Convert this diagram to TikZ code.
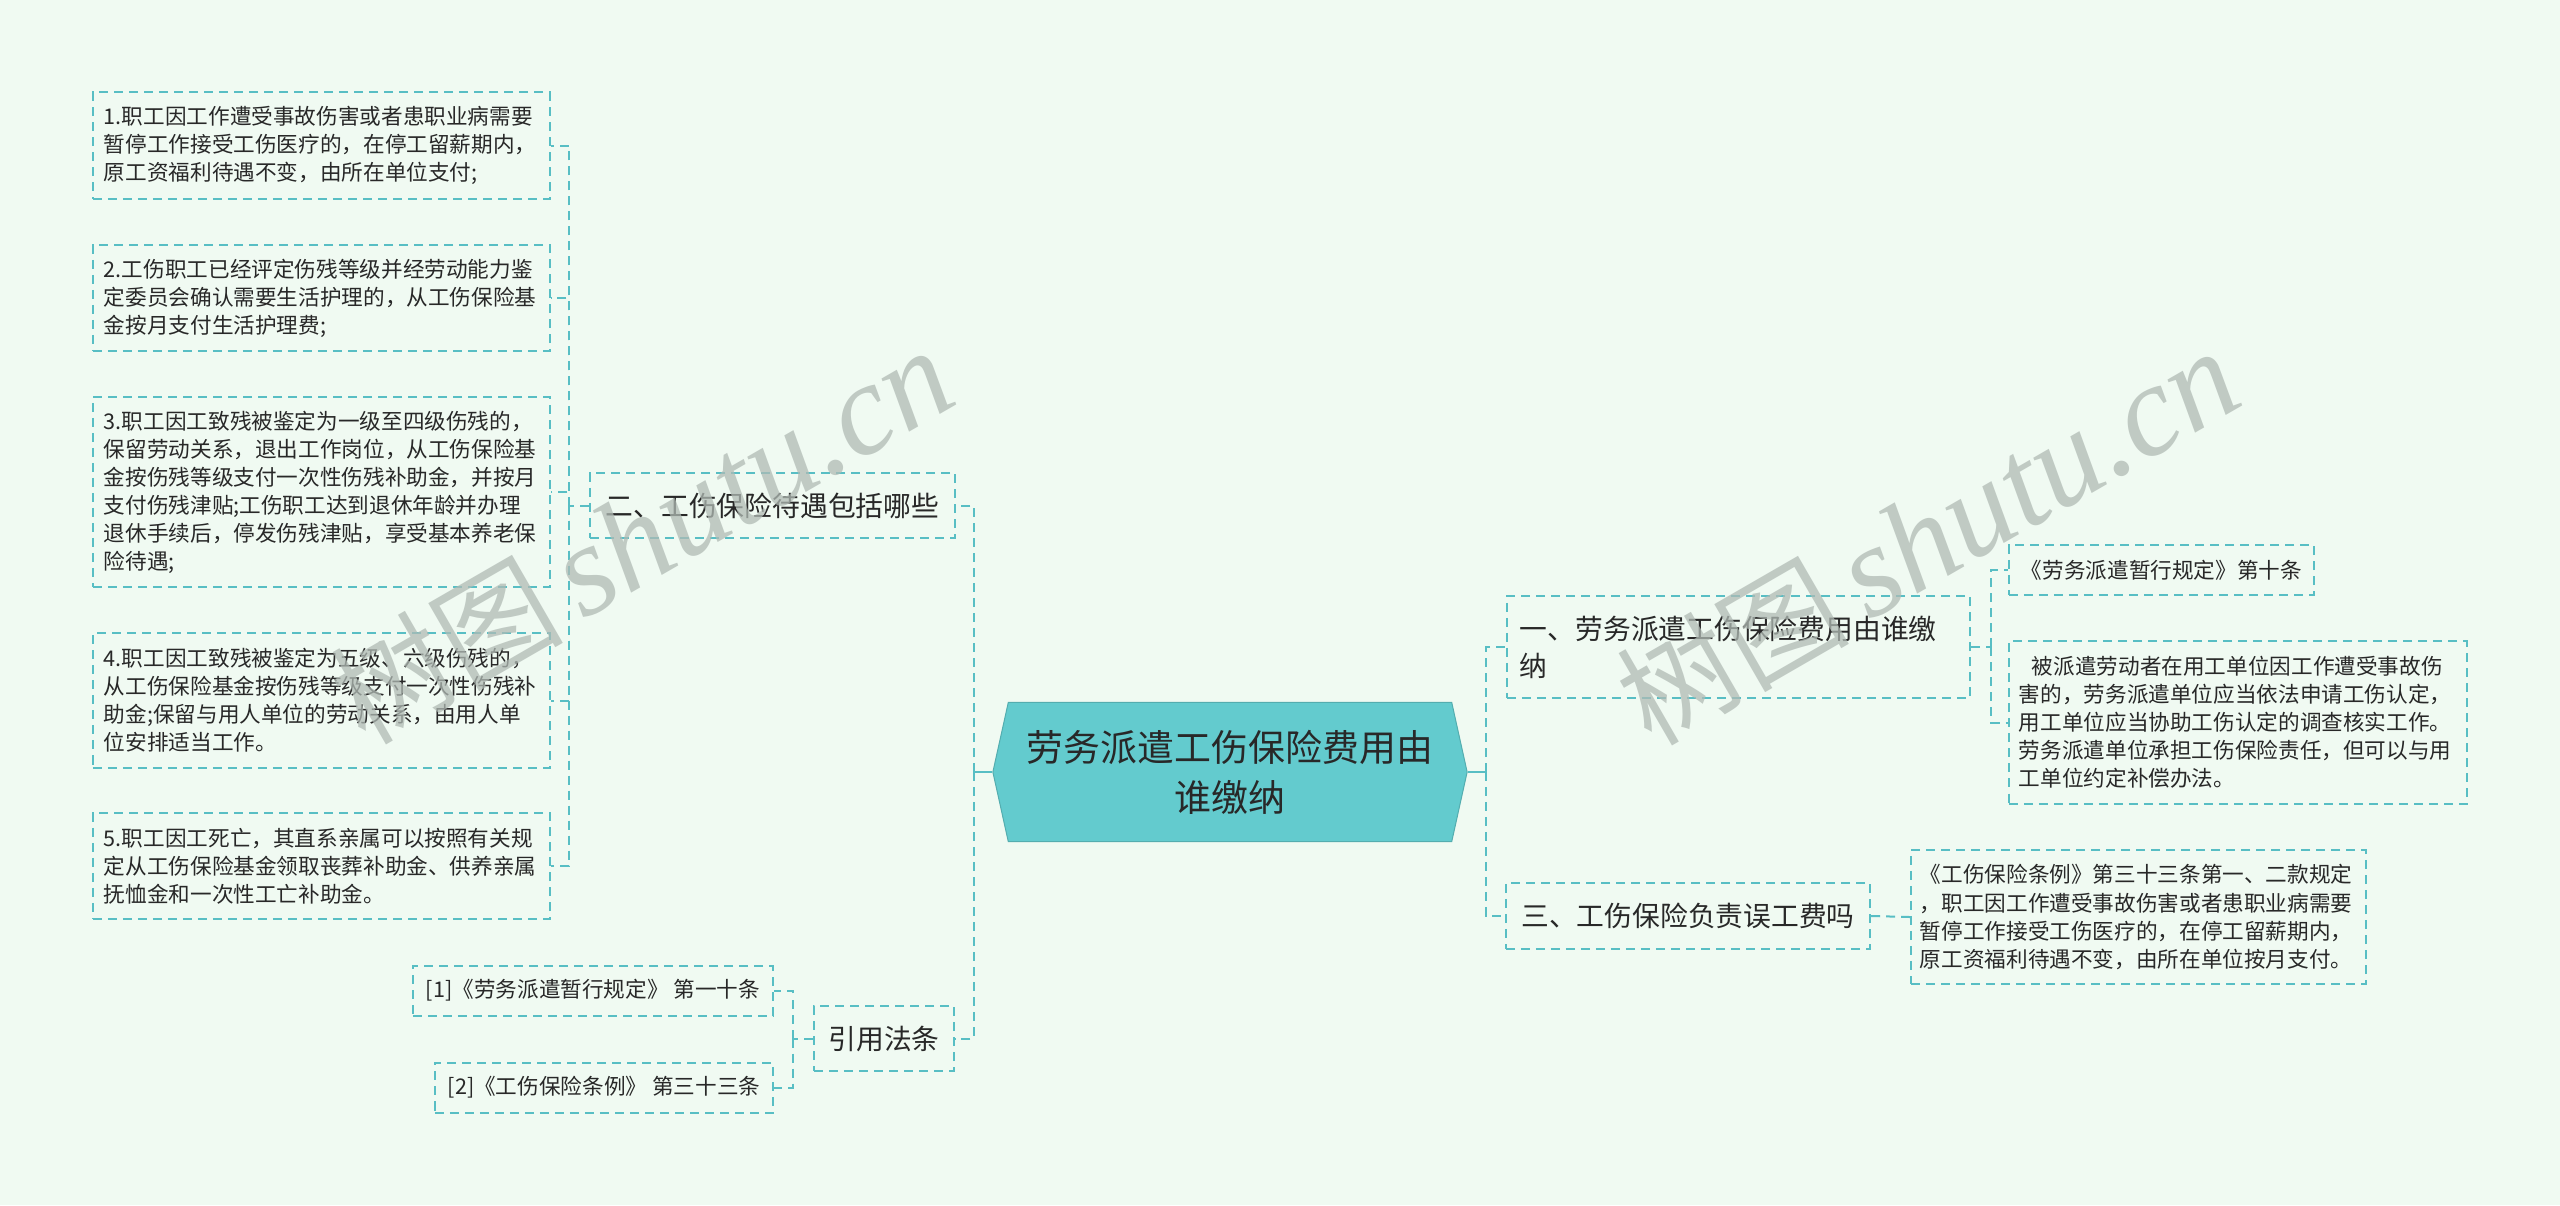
\documentclass[tikz,border=0pt]{standalone}
\usepackage{fontspec}
\setmainfont{Noto Sans CJK SC}
\newfontfamily\wmfont{Liberation Serif}
\usepackage{tikz}
\usetikzlibrary{positioning}
\usetikzlibrary{shapes.symbols}
\definecolor{bgcol}{RGB}{240,250,242}
\definecolor{linecol}{RGB}{88,190,196}
\definecolor{rootcol}{RGB}{99,203,206}
\definecolor{txtcol}{RGB}{40,40,40}
\definecolor{wmcol}{RGB}{176,186,180}
\tikzset{root node/.style={signal,signal to=west and east,signal pointer angle=155,fill=rootcol,draw=rootcol!85!black,line width=0.01cm,minimum width=4.74cm,minimum height=1.39cm,inner sep=0pt,align=center,text=txtcol,font=\fontsize{10.5pt}{14.2pt}\selectfont},
  branch node/.style={draw=linecol,dash pattern=on 0.09cm off 0.06cm,line width=0.02cm,inner xsep=0.13cm,inner ysep=0pt,align=left,text=txtcol,font=\fontsize{7.9pt}{10.5pt}\selectfont},
  leaf node/.style={draw=linecol,dash pattern=on 0.09cm off 0.06cm,line width=0.02cm,inner xsep=0.11cm,inner ysep=0pt,align=left,text=txtcol,font=\fontsize{6.15pt}{7.97pt}\selectfont},
  nlines/.style={minimum height=#1*0.28cm+0.22cm},
  link/.style={draw=linecol,dash pattern=on 0.09cm off 0.06cm,line width=0.02cm},
  elbow/.style={to path={|- (\tikztotarget)}},
  watermark/.style={text=wmcol,rotate=30,opacity=0.75},}

\begin{document}
\begin{tikzpicture}[x=0.01cm,y=-0.01cm]
    \fill[bgcol] (0,0) rectangle (2560,1205);
    \useasboundingbox (0,0) rectangle (2560,1205);

    \node[root node] (root) at (1230,772) {劳务派遣工伤保险费用由\\谁缴纳};

    % left half
    \node[branch node,minimum width=3.65cm,minimum height=0.65cm,align=center] (b2) at (772.5,505.5) {二、工伤保险待遇包括哪些};
    \node[branch node,minimum width=1.40cm,minimum height=0.65cm,align=center] (b4) at (884,1038.5) {引用法条};

    \node[leaf node,text width=4.35cm,nlines=3] (l1) at (321.5,145.5) {1.职工因工作遭受事故伤害或者患职业病需要\\暂停工作接受工伤医疗的，在停工留薪期内，\\原工资福利待遇不变，由所在单位支付;};
    \node[leaf node,text width=4.35cm,nlines=3] (l2) at (321.5,298) {2.工伤职工已经评定伤残等级并经劳动能力鉴\\定委员会确认需要生活护理的，从工伤保险基\\金按月支付生活护理费;};
    \node[leaf node,text width=4.35cm,nlines=6] (l3) at (321.5,492) {3.职工因工致残被鉴定为一级至四级伤残的，\\保留劳动关系，退出工作岗位，从工伤保险基\\金按伤残等级支付一次性伤残补助金，并按月\\支付伤残津贴;工伤职工达到退休年龄并办理\\退休手续后，停发伤残津贴，享受基本养老保\\险待遇;};
    \node[leaf node,text width=4.35cm,nlines=4] (l4) at (321.5,700.5) {4.职工因工致残被鉴定为五级、六级伤残的，\\从工伤保险基金按伤残等级支付一次性伤残补\\助金;保留与用人单位的劳动关系，由用人单\\位安排适当工作。};
    \node[leaf node,text width=4.35cm,nlines=3] (l5) at (321.5,866) {5.职工因工死亡，其直系亲属可以按照有关规\\定从工伤保险基金领取丧葬补助金、供养亲属\\抚恤金和一次性工亡补助金。};

    \node[leaf node,minimum width=3.60cm,nlines=1,align=center] (r1) at (593,990.5) {[1]《劳务派遣暂行规定》 第一十条};
    \node[leaf node,minimum width=3.38cm,nlines=1,align=center] (r2) at (604,1087.5) {[2]《工伤保险条例》 第三十三条};

    % right half
    \node[branch node,text width=4.37cm,minimum height=1.02cm] (b1) at (1738.5,647) {一、劳务派遣工伤保险费用由谁缴\\纳};
    \node[branch node,minimum width=3.64cm,minimum height=0.66cm,align=center] (b3) at (1688,916) {三、工伤保险负责误工费吗};

    \node[leaf node,minimum width=3.05cm,nlines=1,align=center] (k1) at (2161.5,570) {《劳务派遣暂行规定》第十条};
    \node[leaf node,text width=4.38cm,inner xsep=0.10cm,nlines=5] (k2) at (2238,722.5) {\hspace{0.13cm}被派遣劳动者在用工单位因工作遭受事故伤\\害的，劳务派遣单位应当依法申请工伤认定，\\用工单位应当协助工伤认定的调查核实工作。\\劳务派遣单位承担工伤保险责任，但可以与用\\工单位约定补偿办法。};
    \node[leaf node,text width=4.37cm,inner xsep=0.09cm,nlines=4] (k3) at (2138.5,917) {《工伤保险条例》第三十三条第一、二款规定\\，职工因工作遭受事故伤害或者患职业病需要\\暂停工作接受工伤医疗的，在停工留薪期内，\\原工资福利待遇不变，由所在单位按月支付。};

    \coordinate (lbus) at (974,772);
    \coordinate (rbus) at (1486,772);
    \draw[linecol,line width=0.02cm] (root.west) -- (lbus) (root.east) -- (rbus);

    \path[link] (b2.west) -- ++(-20,0) coordinate (lb2)
                (b4.west) -- ++(-20,0) coordinate (lb4)
                (b1.east) -- ++(20,0) coordinate (rb1);

    \path[link]
    (lbus) edge[elbow] (b2.east)
           edge[elbow] (b4.east)
    (rbus) edge[elbow] (b1.west)
           edge[elbow] (b3.west)
    (lb2) edge[elbow] (l1.east)
          edge[elbow] (l2.east)
          edge[elbow] (l3.east)
          edge[elbow] (l4.east)
          edge[elbow] (l5.east)
    (lb4) edge[elbow] (r1.east)
          edge[elbow] (r2.east)
    (rb1) edge[elbow] (k1.west)
          edge[elbow] (k2.west)
    (b3.east) edge (k3.west);

    % watermarks
    \node[watermark] (w1) at (642,536) {\fontsize{33pt}{33pt}\selectfont 树图\,\wmfont\itshape\fontsize{37pt}{37pt}\selectfont shutu.cn};
    \node[watermark] (w2) at (1928,537) {\fontsize{33pt}{33pt}\selectfont 树图\,\wmfont\itshape\fontsize{37pt}{37pt}\selectfont shutu.cn};
\end{tikzpicture}
\end{document}
